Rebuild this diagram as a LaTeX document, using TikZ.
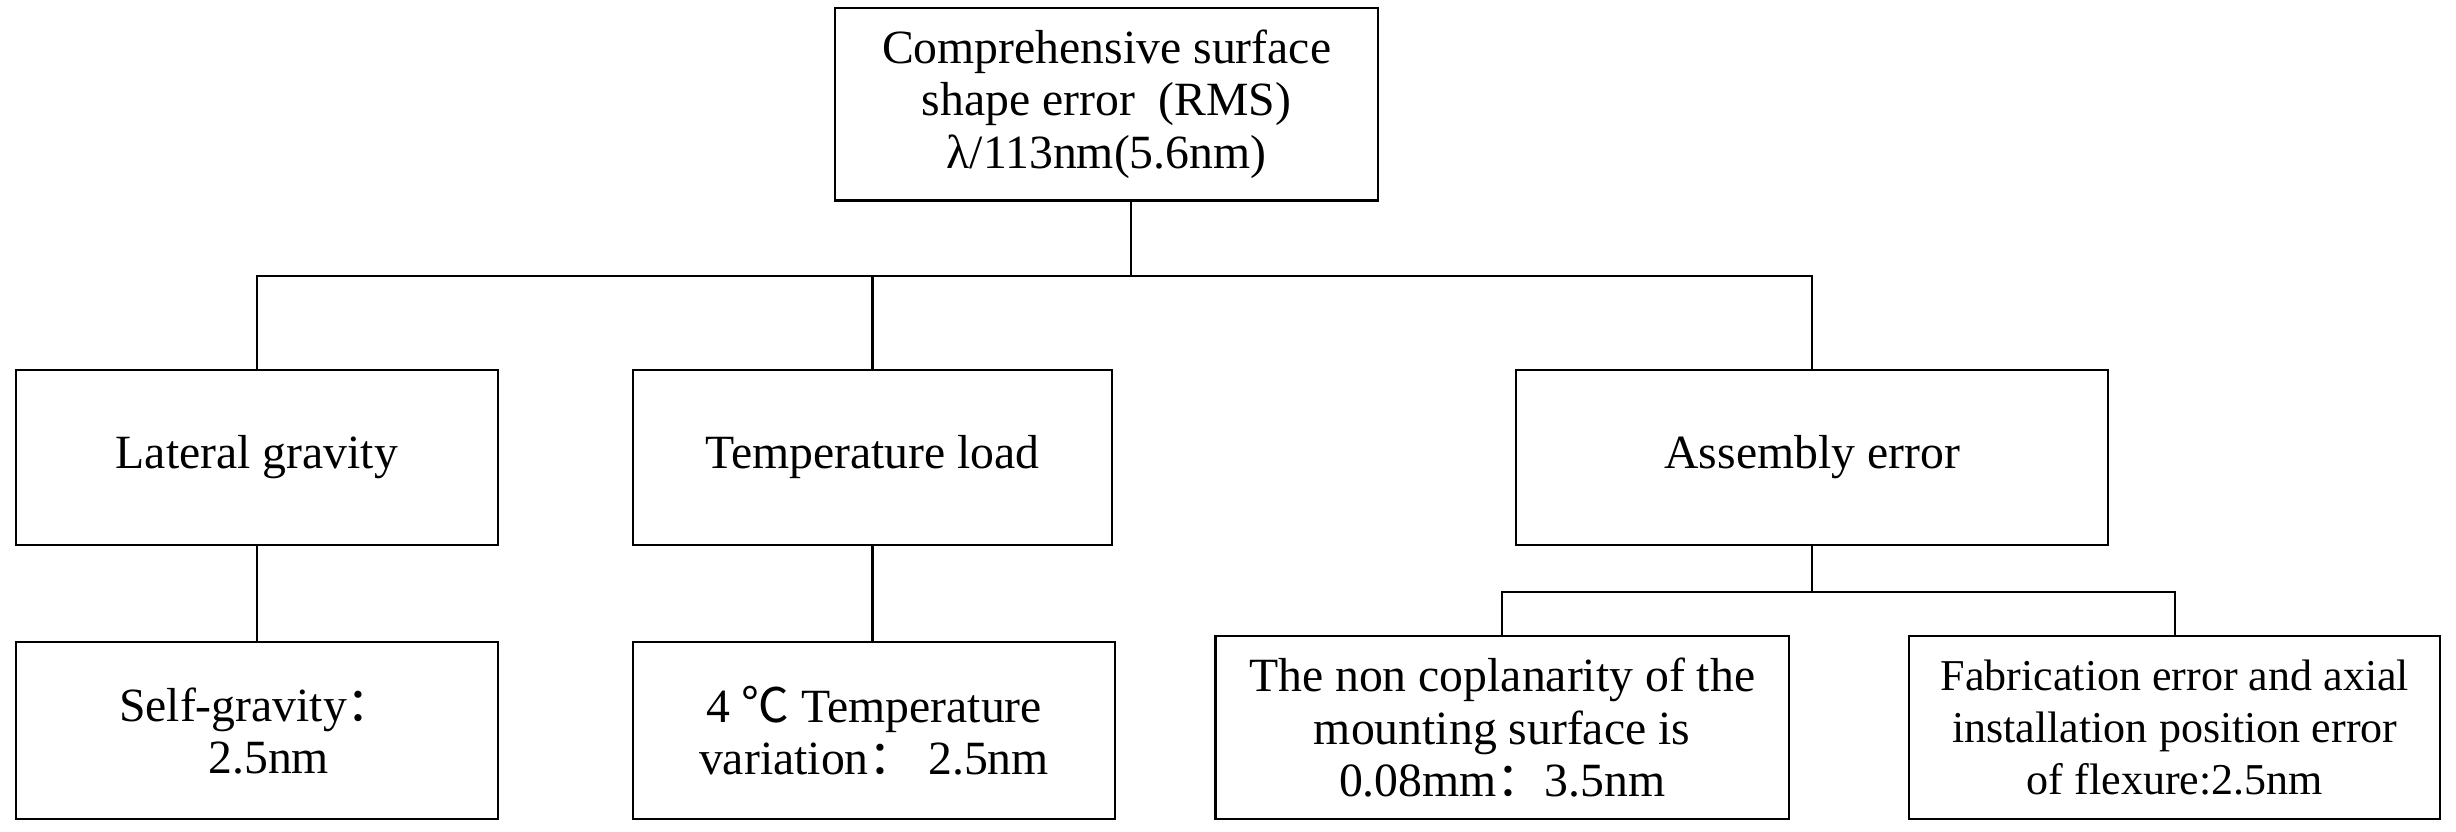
\documentclass[tikz,border=0pt]{standalone}
\usepackage{fontspec}
\setmainfont{Liberation Serif}
\newfontfamily\cjk{Noto Sans CJK SC}
\begin{document}
\begin{tikzpicture}[x=0.03cm,y=-0.03cm,
  bx/.style={draw,line width=1.2pt,inner sep=0pt,align=center,font=\fontsize{26}{28.5}\selectfont},
  ln/.style={line width=1.2pt}]
\useasboundingbox (0,0) rectangle (1568,531);
\node[bx,minimum width=347*0.03cm,minimum height=123*0.03cm] (top) at (706.5,66.5) {Comprehensive surface\\shape error~ (RMS)\\λ/113nm(5.6nm)};
\node[bx,minimum width=308*0.03cm,minimum height=112*0.03cm] (lat) at (164,292) {Lateral gravity};
\node[bx,minimum width=306*0.03cm,minimum height=112*0.03cm] (tmp) at (557,292) {Temperature load};
\node[bx,minimum width=378*0.03cm,minimum height=112*0.03cm] (asm) at (1157,292) {Assembly error};
\node[bx,minimum width=308*0.03cm,minimum height=113*0.03cm] (sg) at (164,466.5) {Self-gravity{\cjk ：}\\\ \ 2.5nm};
\node[bx,minimum width=308*0.03cm,minimum height=113*0.03cm] (tv) at (558,466.5) {4 {\cjk ℃} Temperature\\variation{\cjk ：} 2.5nm};
\node[bx,minimum width=366*0.03cm,minimum height=117*0.03cm] (nc) at (959,464.5) {The non coplanarity of the\\mounting surface is\\0.08mm{\cjk ：}3.5nm};
\node[bx,minimum width=339*0.03cm,minimum height=117*0.03cm,font=\fontsize{24}{28.5}\selectfont] (fe) at (1388.5,464.5) {Fabrication error and axial\\installation position error\\of flexure:2.5nm};
\coordinate (h1) at (722,176);
\draw[ln] (top.south -| h1) -- (h1);
\draw[ln] (lat.north) -- (164,176) -- (1157,176) -- (asm.north);
\draw[ln] (tmp.north) -- (557,176);
\draw[ln] (lat.south) -- (sg.north);
\draw[ln] (tmp.south) -- (tmp.south |- tv.north);
\draw[ln] (asm.south) -- (1157,378);
\draw[ln] (nc.north) -- (959,378) -- (1388.5,378) -- (fe.north);
\end{tikzpicture}
\end{document}
